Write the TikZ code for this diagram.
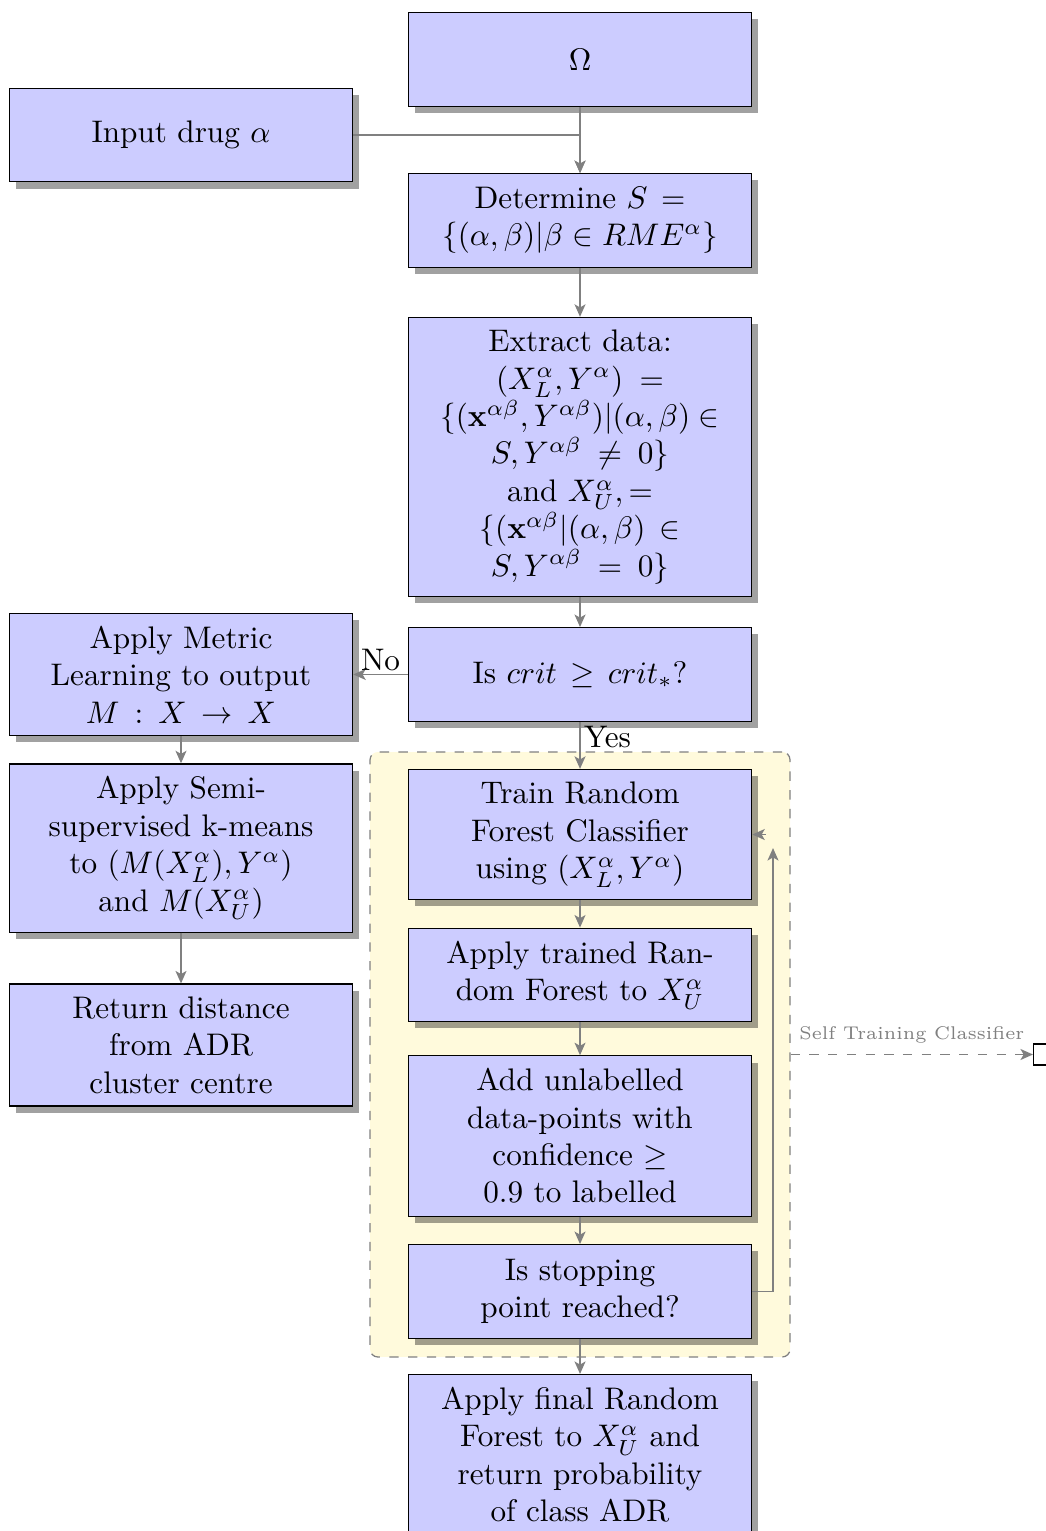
\documentclass[tikz,border=0pt]{standalone}
\usetikzlibrary{shadows,arrows.meta}
\definecolor{stfill}{RGB}{255,250,220}
\begin{document}
\begin{tikzpicture}[
    block/.style={rectangle, draw, fill=blue!20, text width=9em, text centered,
      inner xsep=10pt, inner ysep=4pt, minimum height=3em, drop shadow={fill=black, opacity=.37}},
    line/.style={draw=gray, semithick, -{Stealth[length=4pt,width=3.5pt,inset=1pt]}},
    cloud/.style={draw=gray, dashed, fill=stfill, rounded corners=2.5pt, inner sep=0pt,
      minimum width=4.731cm, minimum height=6.815cm}]
      \useasboundingbox (0,0) rectangle (11.783,-17.247);
      \node[cloud] (selftrain) at (6.534,-11.879) {};
      \draw
        (6.534,-0.670) node[block] (omega){$\Omega$}
        (2.039,-1.521) node[block] (input){Input drug $\alpha$}
        (6.534,-2.484) node[block] (determine){Determine $S=\{(\alpha,\beta)|\beta\in RME^{\alpha}\}$}
        (6.534,-5.148) node[block] (extract){Extract data: $(X_L^{\alpha},Y^{\alpha}) = \{(\mathbf{x}^{\alpha\beta},Y^{\alpha\beta})|(\alpha,\beta)\in S,Y^{\alpha\beta}\neq 0\}$ and $X_U^{\alpha},=\{(\mathbf{x}^{\alpha\beta}|(\alpha,\beta)\in S,Y^{\alpha\beta}=0\}$}
        (6.534,-7.598) node[block] (crit){Is $crit \geq crit_*$?}
        (2.039,-7.598) node[block] (metric){Apply Metric Learning to output $M:X\rightarrow X$}
        (2.039,-9.553) node[block] (semi){Apply Semi-supervised k-means to $(M(X_L^{\alpha}),Y^{\alpha})$ and $M(X_U^{\alpha})$}
        (2.039,-11.772) node[block] (return){Return distance from ADR cluster centre}
        (6.534,-9.401) node[block] (train){Train Random Forest Classifier using $(X_L^{\alpha},Y^{\alpha})$}
        (6.534,-10.983) node[block] (applyrf){Apply trained Random Forest to $X_U^{\alpha}$}
        (6.534,-12.797) node[block] (addpts){Add unlabelled data-points with confidence $\geq$ 0.9 to labelled}
        (6.534,-14.549) node[block] (stop){Is stopping point reached?}
        (6.534,-15.478) node[block, anchor=north] (final){Apply final Random Forest to $X_U^{\alpha}$ and return probability of class ADR}
        (11.761,-11.879) node[draw, fill=white] (out){};
      \coordinate (back) at (8.708,-9.553);
      \coordinate (tip) at (8.629,-9.401);
      \begin{scope}[line]
        \draw (omega) to (determine);
        \draw (input) -| (determine);
        \draw (determine) to (extract);
        \draw (extract) to (crit);
        \draw (crit) to node[above, inner sep=1pt, black]{No} (metric);
        \draw (crit) to node[pos=0, anchor=north west, inner sep=1pt, black]{Yes} (train);
        \draw (metric) to (semi);
        \draw (semi) to (return);
        \draw (train) to (applyrf);
        \draw (applyrf) to (addpts);
        \draw (addpts) to (stop);
        \draw (stop) -| (back);
        \draw (tip) to (train);
        \draw (stop) to (final);
        \draw[dashed] (selftrain) to node[above, font=\fontsize{5.9pt}{7pt}\selectfont, text=gray]{Self Training Classifier} (out);
      \end{scope}
    \end{tikzpicture}
\end{document}
